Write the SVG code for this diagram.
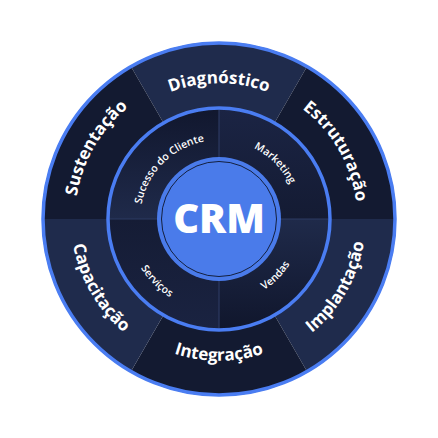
<svg xmlns="http://www.w3.org/2000/svg" xmlns:xlink="http://www.w3.org/1999/xlink" width="438" height="438" viewBox="0 0 438 438">
<style>
.outer{font-family:"Open Sans","Liberation Sans",sans-serif;font-weight:700;font-size:17px;fill:#ffffff;}
.inner{font-family:"Open Sans","Liberation Sans",sans-serif;font-weight:600;font-size:10.5px;fill:#ffffff;}
.crm{font-family:"Open Sans","Liberation Sans",sans-serif;font-weight:800;font-size:40px;fill:#ffffff;}
.light{fill:#1f2b4c;}
.dark{fill:#131a31;}
.sep{stroke:#2c3a62;stroke-width:1.2;fill:none;}
</style>
<defs>
<linearGradient id="gTL" x1="0" y1="0" x2="0" y2="1"><stop offset="0" stop-color="#11172e"/><stop offset="1" stop-color="#1f2a4a"/></linearGradient>
<linearGradient id="gTR" x1="0" y1="0" x2="0" y2="1"><stop offset="0" stop-color="#1b2444"/><stop offset="1" stop-color="#141b33"/></linearGradient>
<linearGradient id="gBR" x1="0" y1="0" x2="0" y2="1"><stop offset="0" stop-color="#1f2a4a"/><stop offset="1" stop-color="#10162c"/></linearGradient>
<linearGradient id="gBL" x1="0" y1="0" x2="0" y2="1"><stop offset="0" stop-color="#151c35"/><stop offset="1" stop-color="#1a2341"/></linearGradient>
<path id="pDiag" d="M85.1,195.4 A136,136 0 0 1 352.9,195.4"/>
<path id="pEstr" d="M171.8,89.3 A138,138 0 0 1 307.7,324.7"/>
<path id="pSust" d="M126.4,329.3 A144,144 0 0 1 268.2,83.7"/>
<path id="pInte" d="M79.2,243.7 A142,142 0 0 0 358.8,243.7"/>
<path id="pImpl" d="M168.7,357.1 A147,147 0 0 0 313.5,106.4"/>
<path id="pCapa" d="M123.9,105.6 A148,148 0 0 0 269.6,358.1"/>
<path id="pSuc" d="M154.3,264.3 A79,79 0 0 1 264.3,154.3"/>
<path id="pMkt" d="M173.7,154.3 A79,79 0 0 1 283.7,264.3"/>
<path id="pVen" d="M170.8,287.8 A84,84 0 0 0 287.8,170.8"/>
<path id="pSer" d="M143.6,166.2 A92,92 0 0 0 271.8,294.4"/>
</defs>

<g id="outer-ring">
<g id="diagnostico">
<path class="light" d="M219,219 L130.5,65.7 A177,177 0 0 1 307.5,65.7 Z"/>
<text class="outer"><textPath xlink:href="#pDiag" href="#pDiag" startOffset="50%" text-anchor="middle">Diagnóstico</textPath></text>
</g>
<g id="estruturacao">
<path class="dark" d="M219,219 L307.5,65.7 A177,177 0 0 1 396,219 Z"/>
<text class="outer"><textPath xlink:href="#pEstr" href="#pEstr" startOffset="50%" text-anchor="middle">Estruturação</textPath></text>
</g>
<g id="implantacao">
<path class="light" d="M219,219 L396,219 A177,177 0 0 1 307.5,372.3 Z"/>
<text class="outer"><textPath xlink:href="#pImpl" href="#pImpl" startOffset="50%" text-anchor="middle">Implantação</textPath></text>
</g>
<g id="integracao">
<path class="dark" d="M219,219 L307.5,372.3 A177,177 0 0 1 130.5,372.3 Z"/>
<text class="outer"><textPath xlink:href="#pInte" href="#pInte" startOffset="50%" text-anchor="middle">Integração</textPath></text>
</g>
<g id="capacitacao">
<path class="light" d="M219,219 L130.5,372.3 A177,177 0 0 1 42,219 Z"/>
<text class="outer"><textPath xlink:href="#pCapa" href="#pCapa" startOffset="50%" text-anchor="middle">Capacitação</textPath></text>
</g>
<g id="sustentacao">
<path class="dark" d="M219,219 L42,219 A177,177 0 0 1 130.5,65.7 Z"/>
<text class="outer"><textPath xlink:href="#pSust" href="#pSust" startOffset="50%" text-anchor="middle">Sustentação</textPath></text>
</g>
<circle cx="219" cy="219" r="176" fill="none" stroke="#4a7df2" stroke-width="3.5"/>
</g>

<g id="inner-ring">
<g id="sucesso-do-cliente">
<path fill="url(#gTL)" d="M219,219 L108,219 A111,111 0 0 1 219,108 Z"/>
<text class="inner"><textPath xlink:href="#pSuc" href="#pSuc" startOffset="50%" text-anchor="middle">Sucesso do Cliente</textPath></text>
</g>
<g id="marketing">
<path fill="url(#gTR)" d="M219,219 L219,108 A111,111 0 0 1 330,219 Z"/>
<text class="inner"><textPath xlink:href="#pMkt" href="#pMkt" startOffset="50%" text-anchor="middle">Marketing</textPath></text>
</g>
<g id="vendas">
<path fill="url(#gBR)" d="M219,219 L330,219 A111,111 0 0 1 219,330 Z"/>
<text class="inner"><textPath xlink:href="#pVen" href="#pVen" startOffset="50%" text-anchor="middle">Vendas</textPath></text>
</g>
<g id="servicos">
<path fill="url(#gBL)" d="M219,219 L219,330 A111,111 0 0 1 108,219 Z"/>
<text class="inner"><textPath xlink:href="#pSer" href="#pSer" startOffset="50%" text-anchor="middle">Serviços</textPath></text>
</g>
<g id="separators">
<line class="sep" x1="219" y1="109" x2="219" y2="329"/>
<line class="sep" x1="109" y1="219" x2="329" y2="219"/>
</g>
<circle cx="219" cy="219" r="111" fill="none" stroke="#4a7df2" stroke-width="3.5"/>
</g>

<g id="crm">
<circle cx="219" cy="219" r="62" fill="#4a7bea"/>
<circle cx="219" cy="219" r="57.5" fill="none" stroke="#14203f" stroke-width="1"/>
<text class="crm" x="219" y="233" text-anchor="middle">CRM</text>
</g>
</svg>
